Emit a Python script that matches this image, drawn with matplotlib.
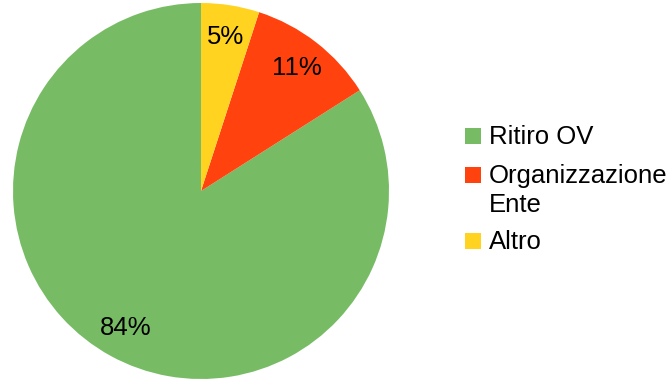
import matplotlib
matplotlib.use("Agg")
import matplotlib.pyplot as plt
from matplotlib.patches import Rectangle

plt.rcParams["font.family"] = ["Liberation Sans", "DejaVu Sans"]

labels = ["Ritiro OV", "Organizzazione\nEnte", "Altro"]
shares = [84, 11, 5]
colors = ["#77bc65", "#ff420e", "#ffd320"]

FS = 18.5
W, H = 671, 379

fig = plt.figure(figsize=(W / 100, H / 100), dpi=100)
ax = fig.add_axes([13 / W, 0, 376 / W, 376 / H])
wedges, texts, autotexts = ax.pie(
    shares,
    colors=colors,
    startangle=90,
    counterclock=True,
    autopct="%d%%",
    pctdistance=0.83,
    radius=1.0,
    textprops={"fontsize": FS, "color": "black"},
)
ax.set_xlim(-1, 1)
ax.set_ylim(-1, 1)
ax.set_aspect("equal")

# legend drawn by hand: square aligned with the first text line
key_x, key_size, text_x = 465, 16, 489
baselines = [144, 183, 249]
line_step = 29
for wedge, label, base in zip(wedges, labels, baselines):
    fig.patches.append(Rectangle(
        (key_x / W, 1 - base / H), key_size / W, key_size / H,
        transform=fig.transFigure, facecolor=wedge.get_facecolor(),
        edgecolor="none"))
    for i, line in enumerate(label.split("\n")):
        fig.text(text_x / W, 1 - (base + i * line_step) / H, line,
                 fontsize=FS, va="baseline", ha="left", color="black")

fig.savefig("out.png", dpi=100, facecolor="white")
